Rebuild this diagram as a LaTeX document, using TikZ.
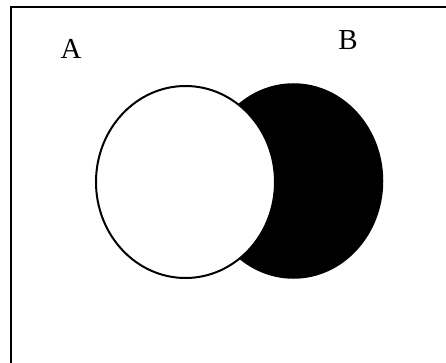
\documentclass[tikz,border=0pt]{standalone}
\usepackage{fontspec}
\setmainfont{Liberation Serif}
\usetikzlibrary{shapes.geometric}
\tikzset{
  setB/.style={ellipse, fill=black, draw=black, line width=1.5pt, inner sep=0pt, minimum width=178pt, minimum height=194pt},
  setA/.style={ellipse, fill=white, draw=black, line width=2pt, inner sep=0pt, minimum width=179pt, minimum height=192pt},
  lbl/.style={font=\fontsize{29}{31}\selectfont, inner sep=0pt}
}
\begin{document}
\begin{tikzpicture}[x=1pt,y=-1pt]
\useasboundingbox (0,0) rectangle (446,363);
\draw[line width=2.8pt] (11,380) -- (11,7) -- (460,7);
\node[setB] (b) at (293.5,181) {};
\node[setA] (a) at (185.5,182) {};
\node[lbl] (la) at (71,49) {A};
\node[lbl] (lb) at (348,40) {B};
\end{tikzpicture}
\end{document}
